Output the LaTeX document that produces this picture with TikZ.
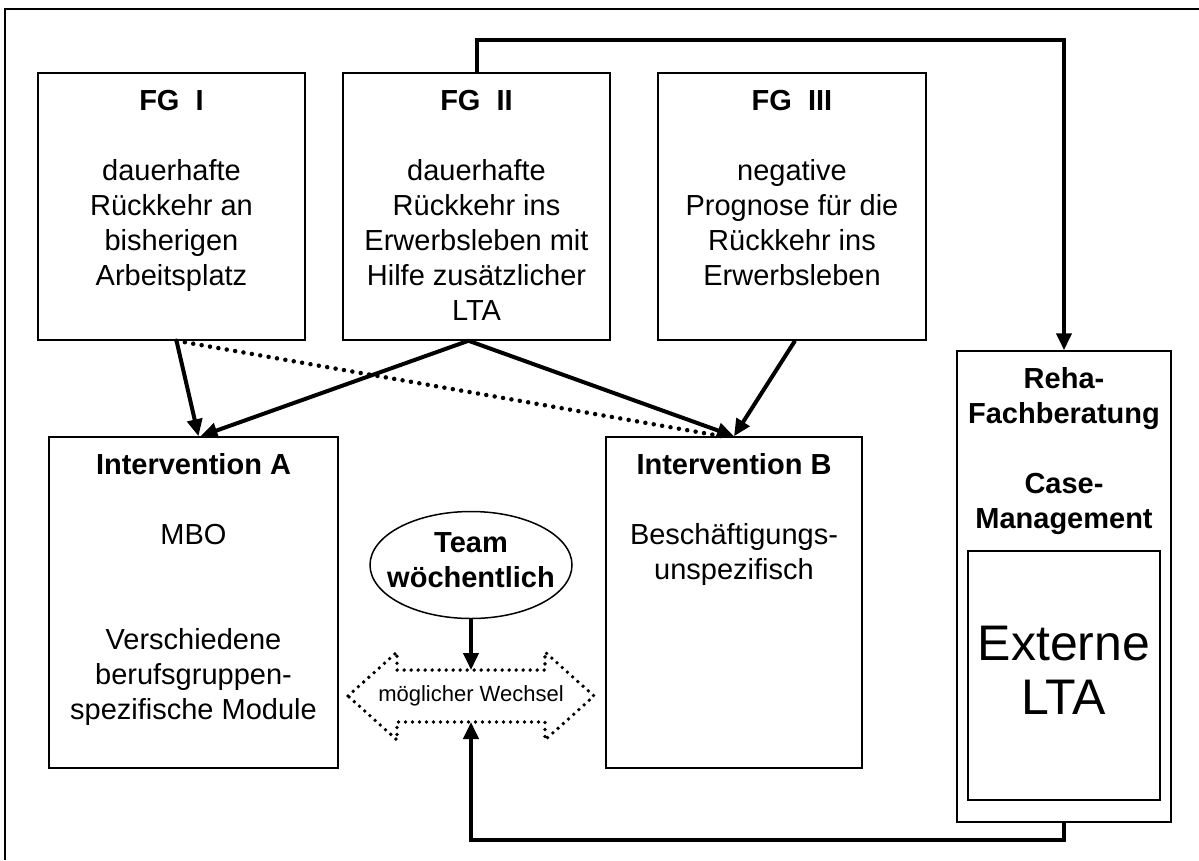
\documentclass[tikz,border=0pt]{standalone}
\usepackage{fontspec}
\setmainfont{Liberation Sans}
\usetikzlibrary{arrows.meta,shapes.geometric}
\begin{document}
\begin{tikzpicture}[x=1pt,y=-1pt,
  box/.style={draw, line width=1.5pt, rectangle, inner sep=0pt},
  txt/.style={font=\fontsize{29}{35}\selectfont, align=center, inner sep=0pt, anchor=north},
  btxt/.style={font=\fontsize{29}{35}\selectfont\bfseries, align=center, inner sep=0pt},
  arr/.style={line width=4pt, -{Triangle[length=17pt,width=15pt]}},
  dotline/.style={line width=4.5pt, dash pattern=on 0pt off 8.5pt, line cap=round}]

\useasboundingbox (0,0) rectangle (1199,860);
\fill[white] (0,0) rectangle (1199,860);
\draw[line width=1.5pt] (5,860) -- (5,9) -- (1199,9);

% boxes
\node[box, minimum width=267pt, minimum height=267pt] (fg1) at (171.5,206.5) {};
\node[box, minimum width=267pt, minimum height=267pt] (fg2) at (476.5,206.5) {};
\node[box, minimum width=268pt, minimum height=267pt] (fg3) at (792,206.5) {};
\node[box, minimum width=289pt, minimum height=331pt] (inta) at (193.5,602.5) {};
\node[box, minimum width=256pt, minimum height=331pt] (intb) at (734,602.5) {};
\node[box, minimum width=214pt, minimum height=471pt] (reha) at (1064,586.5) {};
\node[box, minimum width=192pt, minimum height=249pt] (ext) at (1064,675.5) {};
\node[font=\fontsize{50}{54}\selectfont, align=center, inner sep=0pt] (extt) at (1064,670) {Externe\\LTA};

% texts
\node[txt] (fg1t) at ([yshift=-14pt]fg1.north) {\strut\textbf{FG~~I}\\[35pt]dauerhafte\\Rückkehr an\\bisherigen\\Arbeitsplatz};
\node[txt] (fg2t) at ([yshift=-14pt]fg2.north) {\strut\textbf{FG~~II}\\[35pt]dauerhafte\\Rückkehr ins\\Erwerbsleben mit\\Hilfe zusätzlicher\\LTA};
\node[txt] (fg3t) at ([yshift=-14pt]fg3.north) {\strut\textbf{FG~~III}\\[35pt]negative\\Prognose für die\\Rückkehr ins\\Erwerbsleben};
\node[txt] (intat) at ([yshift=-14pt]inta.north) {\strut\textbf{Intervention A}\\[35pt]MBO\\[70pt]Verschiedene\\berufsgruppen-\\spezifische Module};
\node[txt] (intbt) at ([yshift=-14pt]intb.north) {\strut\textbf{Intervention B}\\[35pt]Beschäftigungs-\\unspezifisch};
\node[txt, font=\fontsize{29}{35}\selectfont\bfseries] (rehat) at ([yshift=-14pt]reha.north) {\strut Reha-\\Fachberatung\\[35pt]Case-\\Management};

% team ellipse
\node[ellipse, draw, line width=1.5pt, minimum width=202pt, minimum height=107pt, inner sep=0pt] (team) at (471,565) {};
\node[btxt] (teamt) at (471,560) {Team\\wöchentlich};

% double arrow
\draw[dotline, line width=3.8pt, dash pattern=on 0pt off 7pt] (348,696) -- (397,652) -- (397,670) -- (545,670) -- (545,652) -- (594,696) -- (545,740) -- (545,722) -- (397,722) -- (397,740) -- cycle;
\node[font=\fontsize{22}{26}\selectfont, inner sep=0pt] (wechsel) at (471,696) {möglicher Wechsel};
\coordinate (dtop) at (471,670);
\coordinate (dbot) at (471,722);
\coordinate (toprow) at (0,40);
\coordinate (botrow) at (0,840);

% connectors
\draw[dotline] ([xshift=5pt]fg1.south) -- ([xshift=-12pt]intb.north);
\draw[arr] ([xshift=5pt]fg1.south) -- ([xshift=5pt]inta.north);
\draw[arr] ([xshift=-8pt]fg2.south) -- ([xshift=7pt]inta.north);
\draw[arr] ([xshift=-8pt]fg2.south) -- (intb.north);
\draw[arr] ([xshift=3pt]fg3.south) -- (intb.north);
\draw[arr] (fg2.north) -- (fg2.north |- toprow) -| (reha.north);
\draw[arr] (reha.south) -- (reha.south |- botrow) -| (dbot);
\draw[arr] (team.south) -- (dtop);
\end{tikzpicture}
\end{document}
